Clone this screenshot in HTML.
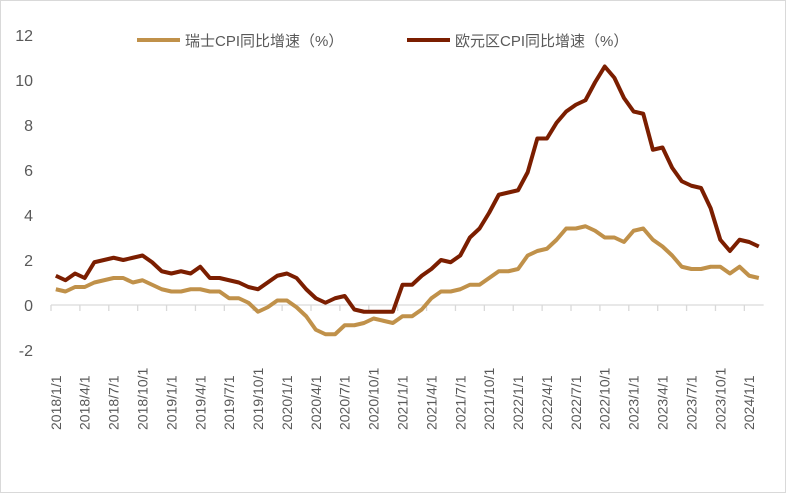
<!DOCTYPE html>
<html><head><meta charset="utf-8"><style>
body{margin:0;background:#fff}
svg{display:block;font-family:"Liberation Sans","Noto Sans CJK SC",sans-serif}
</style></head><body>
<svg id="c" width="786" height="493">
<rect x="0.5" y="0.5" width="785" height="492" fill="#fff" stroke="#d9d9d9"/>
<g id="g"></g>
</svg>
<script>
const swiss=[0.7,0.6,0.8,0.8,1.0,1.1,1.2,1.2,1.0,1.1,0.9,0.7,0.6,0.6,0.7,0.7,0.6,0.6,0.3,0.3,0.1,-0.3,-0.1,0.2,0.2,-0.1,-0.5,-1.1,-1.3,-1.3,-0.9,-0.9,-0.8,-0.6,-0.7,-0.8,-0.5,-0.5,-0.2,0.3,0.6,0.6,0.7,0.9,0.9,1.2,1.5,1.5,1.6,2.2,2.4,2.5,2.9,3.4,3.4,3.5,3.3,3.0,3.0,2.8,3.3,3.4,2.9,2.6,2.2,1.7,1.6,1.6,1.7,1.7,1.4,1.7,1.3,1.2];
const euro=[1.3,1.1,1.4,1.2,1.9,2.0,2.1,2.0,2.1,2.2,1.9,1.5,1.4,1.5,1.4,1.7,1.2,1.2,1.1,1.0,0.8,0.7,1.0,1.3,1.4,1.2,0.7,0.3,0.1,0.3,0.4,-0.2,-0.3,-0.3,-0.3,-0.3,0.9,0.9,1.3,1.6,2.0,1.9,2.2,3.0,3.4,4.1,4.9,5.0,5.1,5.9,7.4,7.4,8.1,8.6,8.9,9.1,9.9,10.6,10.1,9.2,8.6,8.5,6.9,7.0,6.1,5.5,5.3,5.2,4.3,2.9,2.4,2.9,2.8,2.6];
const yTicks=[-2,0,2,4,6,8,10,12];
const xLabelYears=[2018,2019,2020,2021,2022,2023,2024];
const xLabelMonths=[1,4,7,10];
const ns="http://www.w3.org/2000/svg",g=document.getElementById('g');
const X0=51,CW=9.63;
const xs=i=>X0+CW*(i+0.5);
const ys=v=>305-v*22.5;
function el(t,a){const e=document.createElementNS(ns,t);for(const k in a)e.setAttribute(k,a[k]);g.appendChild(e);return e;}
// y ticks
yTicks.forEach(v=>{const t=el('text',{x:33,y:ys(v)+6,'text-anchor':'end','font-size':16,fill:'#595959'});t.textContent=v;

});
// zero axis
const n=euro.length;
const ax=el('line',{x1:X0,x2:X0+CW*n,y1:ys(0),y2:ys(0),stroke:'#d9d9d9','stroke-width':1.3});


for(let i=0;i<=n;i+=3){const tk=el('line',{x1:X0+CW*i,x2:X0+CW*i,y1:ys(0),y2:ys(0)+6,stroke:'#d9d9d9','stroke-width':1.3});

}
// x labels
let idx=0;
xLabelYears.forEach(y=>xLabelMonths.forEach(m=>{const i=(y-2018)*12+(m-1);if(i<n){const x=xs(i)+5,yy=430;
const t=el('text',{x:x,y:yy,transform:`rotate(-90 ${x} ${yy})`,'font-size':14,fill:'#595959'});t.textContent=`${y}/${m}/1`;

}}));
function line(d,c,name){const p=el('polyline',{points:d.map((v,i)=>xs(i)+','+ys(v)).join(' '),fill:'none',stroke:c,'stroke-width':4,'stroke-linejoin':'round'});

}
line(swiss,'#C0914A','swiss-cpi-line');
line(euro,'#7B1E00','euro-cpi-line');
// legend
const l1=el('line',{x1:137,x2:180,y1:40,y2:40,stroke:'#C0914A','stroke-width':4});


const t1=el('text',{x:185,y:46,'font-size':15,fill:'#595959'});t1.textContent='瑞士CPI同比增速（%）';


const l2=el('line',{x1:407,x2:450,y1:40,y2:40,stroke:'#7B1E00','stroke-width':4});


const t2=el('text',{x:455,y:46,'font-size':15,fill:'#595959'});t2.textContent='欧元区CPI同比增速（%）';


</script>
</body></html>
